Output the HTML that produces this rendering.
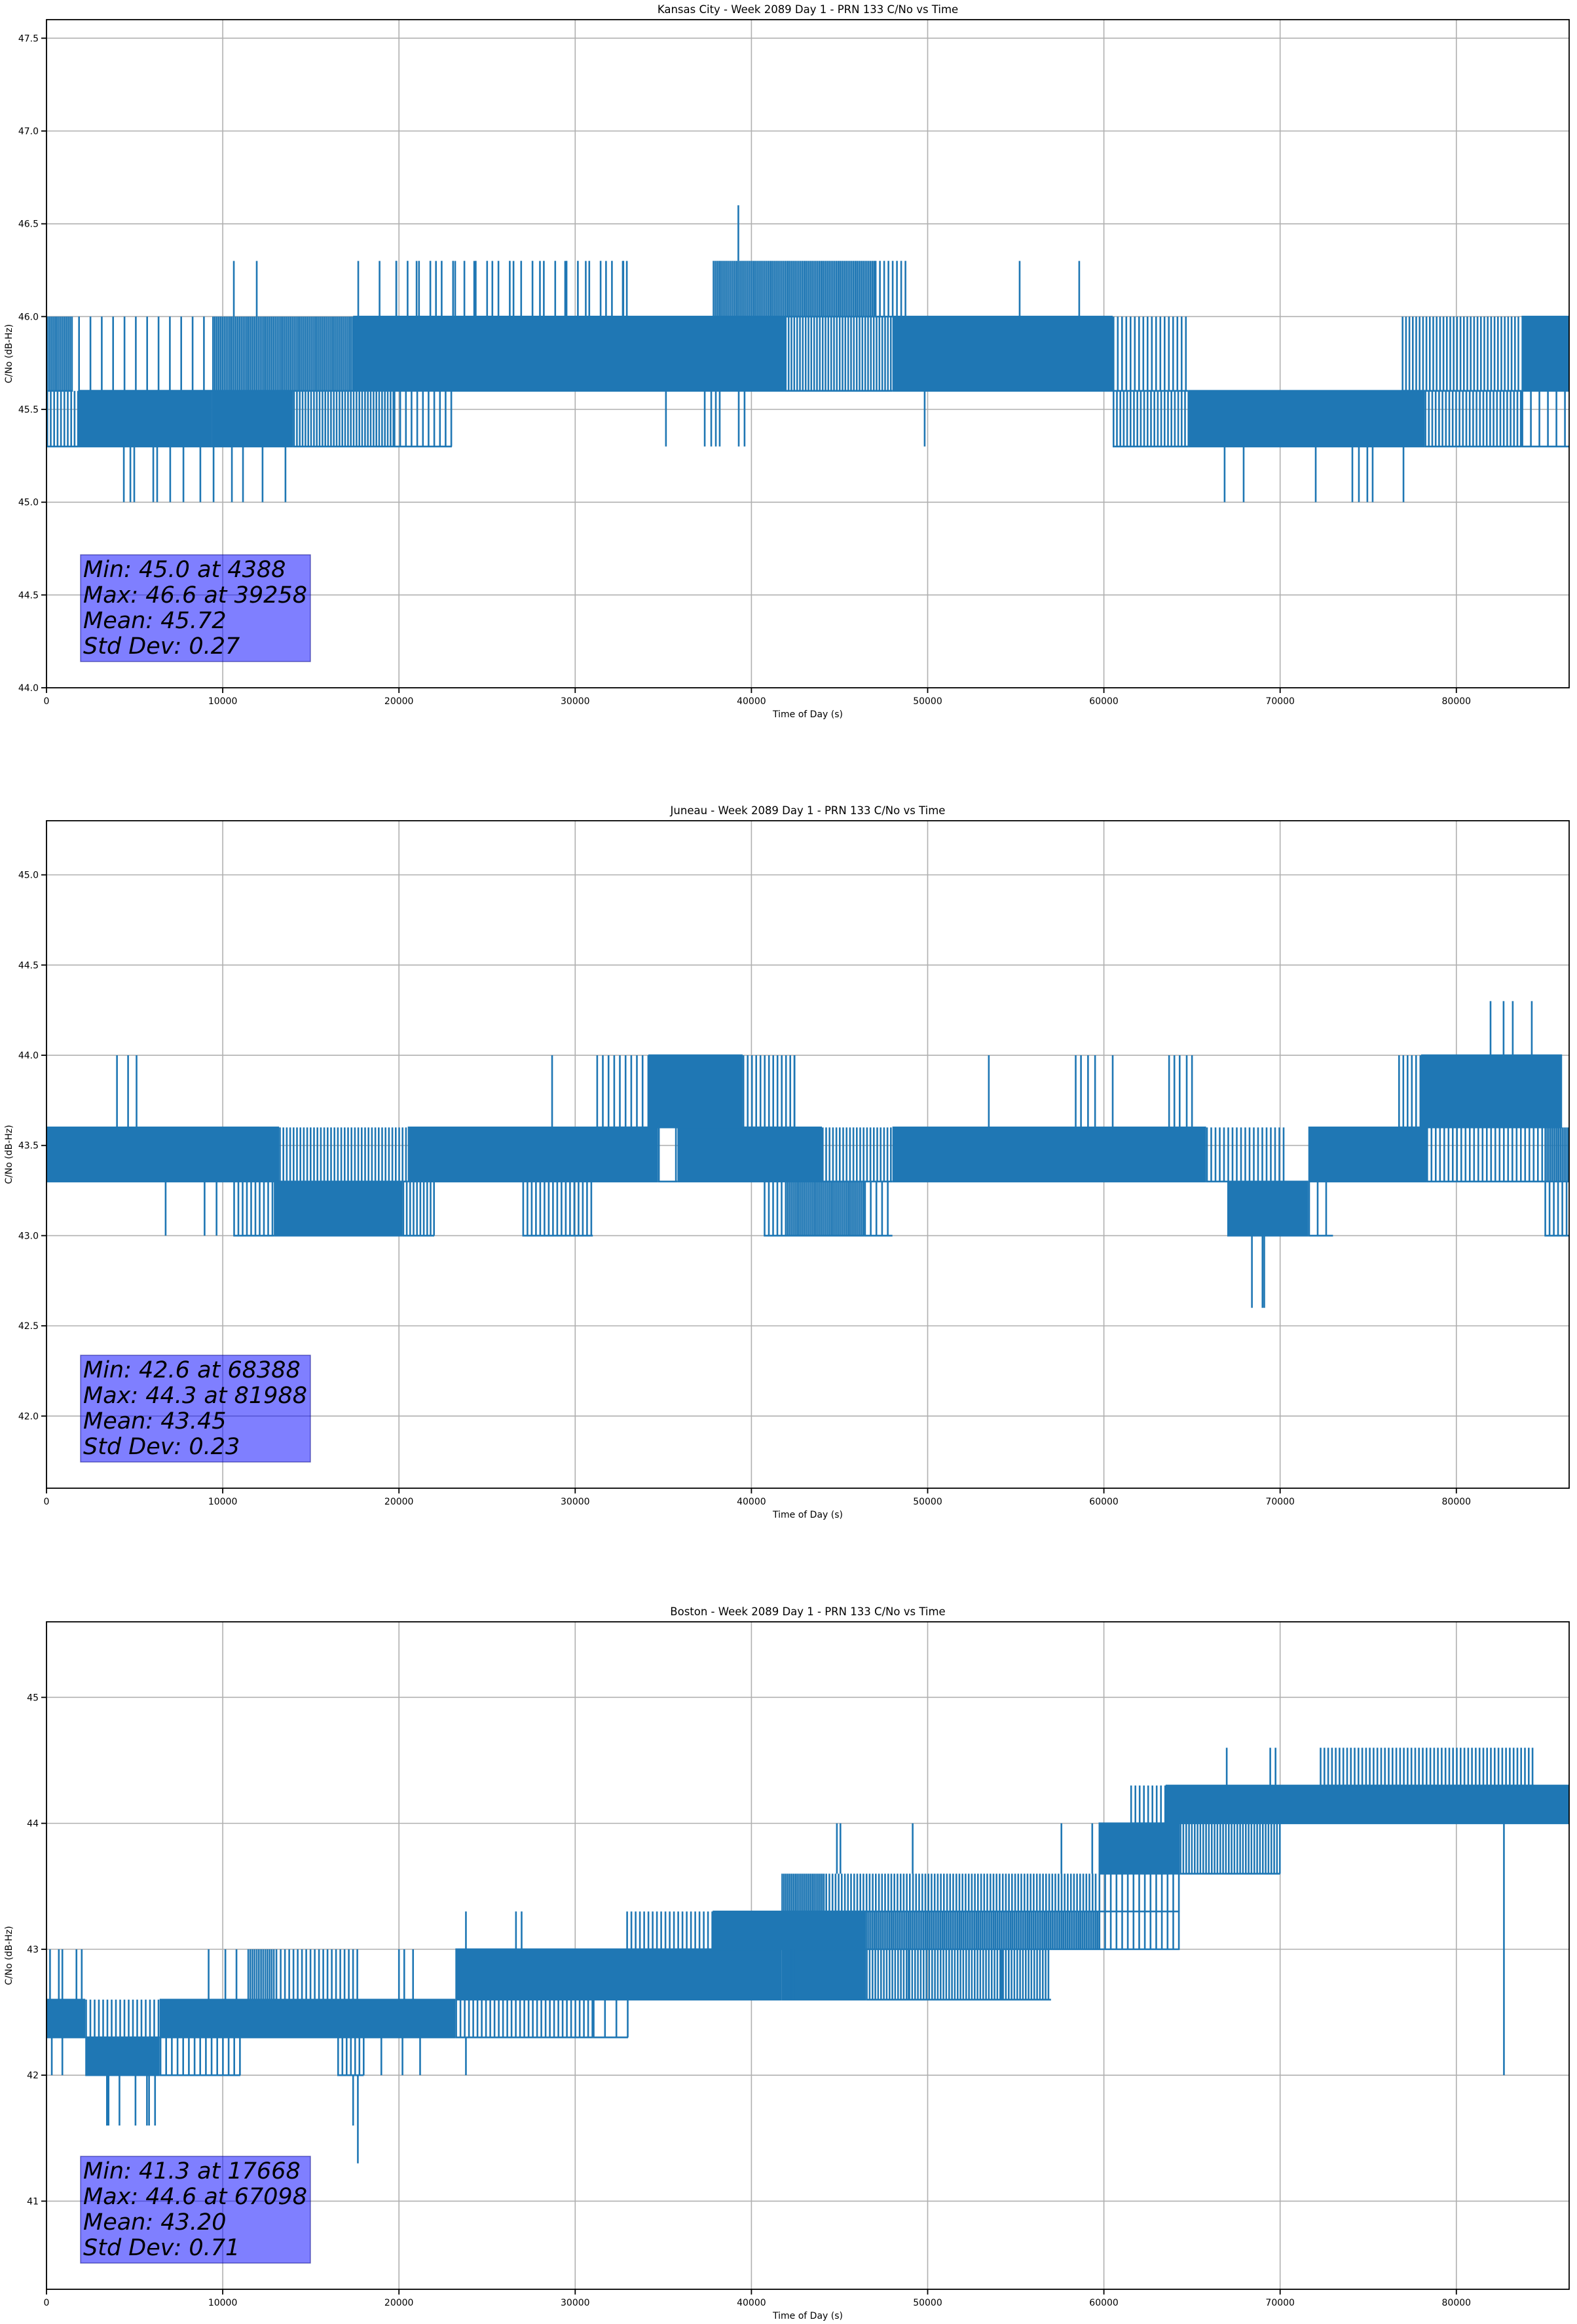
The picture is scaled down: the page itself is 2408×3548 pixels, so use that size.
<!DOCTYPE html>
<html>
<head>
<meta charset="utf-8">
<style>
  html, body { margin: 0; padding: 0; background: #ffffff; }
  svg { display: block; }
  text { font-family: "DejaVu Sans", "Liberation Sans", sans-serif; fill: #000; }
</style>
</head>
<body>
<svg id="fig" xmlns="http://www.w3.org/2000/svg" width="2408" height="3548" viewBox="0 0 2408 3548"></svg>
<script>
// ---------- shared axis data ----------
const xTickValues = [0, 10000, 20000, 30000, 40000, 50000, 60000, 70000, 80000];
const xTickLabels = ["0", "10000", "20000", "30000", "40000", "50000", "60000", "70000", "80000"];

// ---------- Kansas City ----------
const kcYTicks = [44.0, 44.5, 45.0, 45.5, 46.0, 46.5, 47.0, 47.5];
const kcYTickLabels = ["44.0", "44.5", "45.0", "45.5", "46.0", "46.5", "47.0", "47.5"];
const kcBandStart = [0, 0, 1800, 1800, 9400, 9400, 14000, 19700, 17400, 41900, 48000, 19800, 37800, 47000, 60500, 60500, 64800, 78200, 76900, 83700, 83700];
const kcBandEnd   = [1500, 1800, 9400, 9400, 14000, 17400, 19700, 23000, 41900, 48000, 60500, 33000, 47000, 48800, 64800, 64800, 78200, 83700, 83700, 86400, 86400];
const kcBandLow   = [45.6, 45.3, 45.3, 45.6, 45.3, 45.6, 45.3, 45.3, 45.6, 45.6, 45.6, 46.0, 46.0, 46.0, 45.6, 45.3, 45.3, 45.3, 45.6, 45.6, 45.3];
const kcBandHigh  = [46.0, 45.6, 45.6, 46.0, 45.6, 46.0, 45.6, 45.6, 46.0, 46.0, 46.0, 46.3, 46.3, 46.3, 46.0, 45.6, 45.6, 45.6, 46.0, 46.0, 45.6];
const kcBandDensity = [0.9, 0.5, 1, 0.15, 1, 0.9, 0.6, 0.3, 1, 0.6, 1, 0.15, 0.9, 0.4, 0.4, 0.5, 1, 0.5, 0.5, 1, 0.2];
const kcSpikeT    = [4388, 4760, 4980, 6060, 6280, 7020, 7770, 8730, 9480, 10520, 11150, 12260, 13560, 66850, 67930, 72020, 74100, 74470, 74950, 75250, 77000,
                     10630, 11930, 17690, 18900, 19850, 21000, 22100, 23190, 24270, 25300, 26500, 28000, 29430, 30600, 31750, 32700, 32930, 55220, 58600,
                     39258, 35150, 37350, 37720, 37980, 38200, 39280, 39610, 49830];
const kcSpikeBase = [45.3, 45.3, 45.3, 45.3, 45.3, 45.3, 45.3, 45.3, 45.3, 45.3, 45.3, 45.3, 45.3, 45.3, 45.3, 45.3, 45.3, 45.3, 45.3, 45.3, 45.3,
                     46.0, 46.0, 46.0, 46.0, 46.0, 46.0, 46.0, 46.0, 46.0, 46.0, 46.0, 46.0, 46.0, 46.0, 46.0, 46.0, 46.0, 46.0, 46.0,
                     46.3, 45.6, 45.6, 45.6, 45.6, 45.6, 45.6, 45.6, 45.6];
const kcSpikeV    = [45.0, 45.0, 45.0, 45.0, 45.0, 45.0, 45.0, 45.0, 45.0, 45.0, 45.0, 45.0, 45.0, 45.0, 45.0, 45.0, 45.0, 45.0, 45.0, 45.0, 45.0,
                     46.3, 46.3, 46.3, 46.3, 46.3, 46.3, 46.3, 46.3, 46.3, 46.3, 46.3, 46.3, 46.3, 46.3, 46.3, 46.3, 46.3, 46.3, 46.3,
                     46.6, 45.3, 45.3, 45.3, 45.3, 45.3, 45.3, 45.3, 45.3];
const kcStats = ["Min: 45.0 at 4388", "Max: 46.6 at 39258", "Mean: 45.72", "Std Dev: 0.27"];

// ---------- Juneau ----------
const juYTicks = [42.0, 42.5, 43.0, 43.5, 44.0, 44.5, 45.0];
const juYTickLabels = ["42.0", "42.5", "43.0", "43.5", "44.0", "44.5", "45.0"];
const juBandStart = [0, 13200, 20500, 34700, 35800, 44000, 48000, 65800, 71600, 78300, 85000,
                     10600, 12900, 20200, 27000, 40700, 41900, 46400, 67000, 71600, 85000,
                     31200, 34150, 39500, 76700, 78000];
const juBandEnd   = [13200, 20500, 34700, 35800, 44000, 48000, 65800, 70200, 78300, 85000, 86400,
                     12900, 20200, 22000, 31000, 41900, 46400, 48000, 71600, 73000, 86400,
                     34150, 39500, 42500, 78000, 86000];
const juBandLow   = [43.3, 43.3, 43.3, 43.3, 43.3, 43.3, 43.3, 43.3, 43.3, 43.3, 43.3,
                     43.0, 43.0, 43.0, 43.0, 43.0, 43.0, 43.0, 43.0, 43.0, 43.0,
                     43.6, 43.6, 43.6, 43.6, 43.6];
const juBandHigh  = [43.6, 43.6, 43.6, 43.6, 43.6, 43.6, 43.6, 43.6, 43.6, 43.6, 43.6,
                     43.3, 43.3, 43.3, 43.3, 43.3, 43.3, 43.3, 43.3, 43.3, 43.3,
                     44.0, 44.0, 44.0, 44.0, 44.0];
const juBandDensity = [1, 0.5, 1, 0.1, 1, 0.5, 1, 0.4, 1, 0.4, 0.9,
                       0.4, 1, 0.5, 0.4, 0.4, 0.9, 0.3, 1, 0.2, 0.4,
                       0.3, 1, 0.4, 0.4, 1];
const juSpikeT    = [4000, 4630, 5110, 28690, 42440, 53470, 58400, 58700, 59100, 59500, 60500, 63700, 64000, 64300, 64700, 65000,
                     81940, 82680, 83200, 84280, 68400, 69000, 69100, 6760, 8970, 9650];
const juSpikeBase = [43.6, 43.6, 43.6, 43.6, 43.6, 43.6, 43.6, 43.6, 43.6, 43.6, 43.6, 43.6, 43.6, 43.6, 43.6, 43.6,
                     44.0, 44.0, 44.0, 44.0, 43.0, 43.0, 43.0, 43.3, 43.3, 43.3];
const juSpikeV    = [44.0, 44.0, 44.0, 44.0, 44.0, 44.0, 44.0, 44.0, 44.0, 44.0, 44.0, 44.0, 44.0, 44.0, 44.0, 44.0,
                     44.3, 44.3, 44.3, 44.3, 42.6, 42.6, 42.6, 43.0, 43.0, 43.0];
const juStats = ["Min: 42.6 at 68388", "Max: 44.3 at 81988", "Mean: 43.45", "Std Dev: 0.23"];

// ---------- Boston ----------
const boYTicks = [41, 42, 43, 44, 45];
const boYTickLabels = ["41", "42", "43", "44", "45"];
const boBandStart = [0, 2200, 6420, 23200, 31000,
                     2200, 6420, 16500,
                     11400, 13000, 23200, 41700, 46500,
                     32900, 37800, 46500, 59700,
                     41700, 44200, 59700,
                     59700, 64300,
                     61500, 63500,
                     72250];
const boBandEnd   = [2200, 6420, 23200, 31000, 33000,
                     6420, 11000, 18000,
                     13000, 17700, 41700, 46500, 57000,
                     37800, 46500, 59700, 64300,
                     44200, 59700, 64300,
                     64300, 70000,
                     63500, 86400,
                     84400];
const boBandLow   = [42.3, 42.3, 42.3, 42.3, 42.3,
                     42.0, 42.0, 42.0,
                     42.6, 42.6, 42.6, 42.6, 42.6,
                     43.0, 43.0, 43.0, 43.0,
                     43.3, 43.3, 43.3,
                     43.6, 43.6,
                     44.0, 44.0,
                     44.3];
const boBandHigh  = [42.6, 42.6, 42.6, 42.6, 42.6,
                     42.3, 42.3, 42.3,
                     43.0, 43.0, 43.0, 43.0, 43.0,
                     43.3, 43.3, 43.3, 43.3,
                     43.6, 43.6, 43.6,
                     44.0, 44.0,
                     44.3, 44.3,
                     44.6];
const boBandDensity = [1, 0.4, 1, 0.4, 0.15,
                       1, 0.3, 0.4,
                       0.8, 0.4, 1, 1, 0.6,
                       0.4, 1, 0.9, 0.3,
                       0.9, 0.55, 0.3,
                       1, 0.6,
                       0.4, 1,
                       0.45];
const boSpikeT    = [3430, 3520, 4140, 5050, 5700, 5820, 6160, 17400, 17668,
                     200, 700, 900, 1700, 2000, 9200, 10150, 10780, 20000, 20300, 20800,
                     23800, 26640, 26960, 44850, 45050, 49150, 57590, 59340,
                     66970, 69440, 69740, 82700, 42240, 42400, 48920, 54200,
                     300, 900, 19000, 20200, 21200, 23800];
const boSpikeBase = [42.0, 42.0, 42.0, 42.0, 42.0, 42.0, 42.0, 42.0, 42.0,
                     42.6, 42.6, 42.6, 42.6, 42.6, 42.6, 42.6, 42.6, 42.6, 42.6, 42.6,
                     43.0, 43.0, 43.0, 43.6, 43.6, 43.6, 43.6, 43.6,
                     44.3, 44.3, 44.3, 44.0, 43.0, 43.0, 43.0, 43.0,
                     42.3, 42.3, 42.3, 42.3, 42.3, 42.3];
const boSpikeV    = [41.6, 41.6, 41.6, 41.6, 41.6, 41.6, 41.6, 41.6, 41.3,
                     43.0, 43.0, 43.0, 43.0, 43.0, 43.0, 43.0, 43.0, 43.0, 43.0, 43.0,
                     43.3, 43.3, 43.3, 44.0, 44.0, 44.0, 44.0, 44.0,
                     44.6, 44.6, 44.6, 42.0, 42.6, 42.6, 42.6, 42.6,
                     42.0, 42.0, 42.0, 42.0, 42.0, 42.0];
const boStats = ["Min: 41.3 at 17668", "Max: 44.6 at 67098", "Mean: 43.20", "Std Dev: 0.71"];

// ---------- rendering ----------
const NS = "http://www.w3.org/2000/svg";
const svg = document.getElementById("fig");
const AX_LEFT = 71, AX_RIGHT = 2396, X_MAX = 86400;
const LINE = "#1f77b4";
const STROKE = 2.6;

function mk(tag, attrs, parent) {
  const el = document.createElementNS(NS, tag);
  for (const k in attrs) el.setAttribute(k, attrs[k]);
  (parent || svg).appendChild(el);
  return el;
}

function drawChart(cfg) {
  const g = mk("g", {});
  
  
  const xS = t => AX_LEFT + (t / X_MAX) * (AX_RIGHT - AX_LEFT);
  const yS = v => cfg.bottom - (v - cfg.ymin) / (cfg.ymax - cfg.ymin) * (cfg.bottom - cfg.top);

  const clipId = cfg.key + "-clip";
  const defs = mk("defs", {}, g);
  const cp = mk("clipPath", { id: clipId }, defs);
  mk("rect", { x: AX_LEFT, y: cfg.top, width: AX_RIGHT - AX_LEFT, height: cfg.bottom - cfg.top }, cp);

  // grid
  const grid = mk("g", { stroke: "#b0b0b0", "stroke-width": 1.6 }, g);
  
  
  xTickValues.forEach(t => {
    const gl = mk("line", { x1: xS(t), x2: xS(t), y1: cfg.top, y2: cfg.bottom }, grid);
    
    
  });
  cfg.yTicks.forEach(v => {
    const gl = mk("line", { x1: AX_LEFT, x2: AX_RIGHT, y1: yS(v), y2: yS(v) }, grid);
    
    
  });

  // series
  const series = mk("g", { "clip-path": "url(#" + clipId + ")" }, g);
  
  
  for (let i = 0; i < cfg.bandStart.length; i++) {
    const x0 = xS(cfg.bandStart[i]), x1 = xS(cfg.bandEnd[i]);
    const y0 = yS(cfg.bandHigh[i]), y1 = yS(cfg.bandLow[i]);
    const d = cfg.bandDensity[i];
    if (d >= 0.95) {
      const r = mk("rect", { x: x0, y: y0 - 1.3, width: Math.max(1, x1 - x0), height: (y1 - y0) + 2.6, fill: LINE }, series);
      
      
    } else {
      const bg = mk("g", { stroke: LINE, "stroke-width": STROKE }, series);
      
      
      const step = STROKE / d;
      let path = "";
      for (let x = x0 + STROKE / 2; x <= x1; x += step) {
        path += "M" + x.toFixed(1) + " " + y0.toFixed(1) + "V" + y1.toFixed(1);
      }
      mk("path", { d: path, fill: "none" }, bg);
      // the two level lines bounding the oscillation
      mk("line", { x1: x0, x2: x1, y1: y1, y2: y1 }, bg);
    }
  }
  for (let i = 0; i < cfg.spikeT.length; i++) {
    const x = xS(cfg.spikeT[i]);
    const l = mk("line", { x1: x, x2: x, y1: yS(cfg.spikeBase[i]), y2: yS(cfg.spikeV[i]), stroke: LINE, "stroke-width": STROKE }, series);
    
    
  }

  // axes frame
  const frame = mk("rect", { x: AX_LEFT, y: cfg.top, width: AX_RIGHT - AX_LEFT, height: cfg.bottom - cfg.top, fill: "none", stroke: "#000", "stroke-width": 1.8 }, g);
  
  

  // x ticks
  xTickValues.forEach((t, i) => {
    const tk = mk("line", { x1: xS(t), x2: xS(t), y1: cfg.bottom, y2: cfg.bottom + 8, stroke: "#000", "stroke-width": 1.8 }, g);
    
    
    const tl = mk("text", { x: xS(t), y: cfg.bottom + 25, "font-size": 14, "text-anchor": "middle" }, g);
    tl.textContent = xTickLabels[i];
    
    
  });
  // y ticks
  cfg.yTicks.forEach((v, i) => {
    const tk = mk("line", { x1: AX_LEFT - 8, x2: AX_LEFT, y1: yS(v), y2: yS(v), stroke: "#000", "stroke-width": 1.8 }, g);
    
    
    const tl = mk("text", { x: AX_LEFT - 12, y: yS(v) + 5, "font-size": 14, "text-anchor": "end" }, g);
    tl.textContent = cfg.yTickLabels[i];
    
    
  });

  // title & labels
  const title = mk("text", { x: (AX_LEFT + AX_RIGHT) / 2, y: cfg.top - 10, "font-size": 16.5, "text-anchor": "middle" }, g);
  title.textContent = cfg.title;
  
  
  const xl = mk("text", { x: (AX_LEFT + AX_RIGHT) / 2, y: cfg.bottom + 45, "font-size": 14, "text-anchor": "middle" }, g);
  xl.textContent = "Time of Day (s)";
  
  
  const cy = (cfg.top + cfg.bottom) / 2;
  const yl = mk("text", { x: 18, y: cy, "font-size": 14, "text-anchor": "middle", transform: "rotate(-90 18 " + cy + ")" }, g);
  yl.textContent = "C/No (dB-Hz)";
  
  

  // stats box
  const boxBottom = cfg.bottom - 40, boxTop = boxBottom - 163;
  const sg = mk("g", {}, g);
  
  
  mk("rect", { x: 123, y: boxTop, width: 351, height: 163, fill: "#0000ff", "fill-opacity": 0.5, stroke: "#000080", "stroke-opacity": 0.5, "stroke-width": 1.5 }, sg);
  cfg.stats.forEach((s, i) => {
    const st = mk("text", { x: 127, y: boxTop + 34 + i * 39, "font-size": 35, "font-style": "italic" }, sg);
    st.textContent = s;
    
    
  });
}

drawChart({ key: "kansas-city", title: "Kansas City - Week 2089 Day 1 - PRN 133 C/No vs Time", top: 30, bottom: 1050, ymin: 44.0, ymax: 47.6,
  yTicks: kcYTicks, yTickLabels: kcYTickLabels, bandStart: kcBandStart, bandEnd: kcBandEnd, bandLow: kcBandLow, bandHigh: kcBandHigh, bandDensity: kcBandDensity,
  spikeT: kcSpikeT, spikeBase: kcSpikeBase, spikeV: kcSpikeV, stats: kcStats });
drawChart({ key: "juneau", title: "Juneau - Week 2089 Day 1 - PRN 133 C/No vs Time", top: 1253, bottom: 2272, ymin: 41.6, ymax: 45.3,
  yTicks: juYTicks, yTickLabels: juYTickLabels, bandStart: juBandStart, bandEnd: juBandEnd, bandLow: juBandLow, bandHigh: juBandHigh, bandDensity: juBandDensity,
  spikeT: juSpikeT, spikeBase: juSpikeBase, spikeV: juSpikeV, stats: juStats });
drawChart({ key: "boston", title: "Boston - Week 2089 Day 1 - PRN 133 C/No vs Time", top: 2476, bottom: 3495, ymin: 40.3, ymax: 45.6,
  yTicks: boYTicks, yTickLabels: boYTickLabels, bandStart: boBandStart, bandEnd: boBandEnd, bandLow: boBandLow, bandHigh: boBandHigh, bandDensity: boBandDensity,
  spikeT: boSpikeT, spikeBase: boSpikeBase, spikeV: boSpikeV, stats: boStats });
</script>
</body>
</html>
